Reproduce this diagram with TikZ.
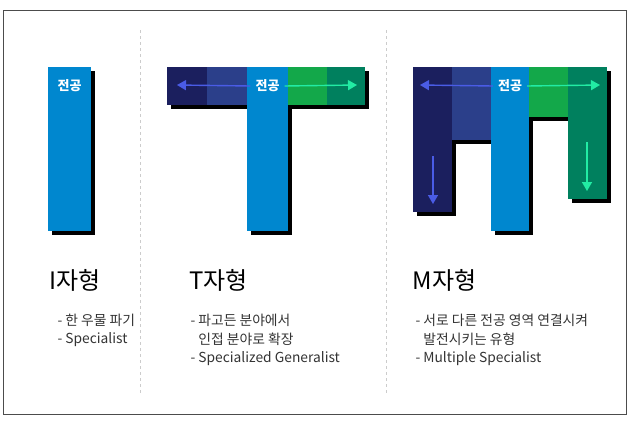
\documentclass[tikz,border=0pt]{standalone}
\usepackage{fontspec}
\setmainfont{Noto Sans CJK KR}
\usetikzlibrary{arrows.meta}
\definecolor{cnavy}{HTML}{1B1F5E}
\definecolor{cnavyb}{HTML}{2B3F8A}
\definecolor{cblue}{HTML}{0087CF}
\definecolor{cgreen}{HTML}{13A84A}
\definecolor{cteal}{HTML}{00805E}
\definecolor{carl}{HTML}{4A5CE6}
\definecolor{carr}{HTML}{22ECA4}
\begin{document}
\begin{tikzpicture}[x=1pt,y=-1pt,
  arl/.style={carl,line width=1.4pt,-{Triangle[length=9pt,width=10pt]}},
  arr/.style={carr,line width=1.4pt,-{Triangle[length=9pt,width=10pt]}},
  title/.style={anchor=west,font=\fontsize{24}{26}\selectfont},
  bul/.style={anchor=west,font=\fontsize{13.8}{15}\selectfont,text=black!80},
  lbl/.style={text=white,font=\bfseries\fontsize{13}{15}\selectfont,inner sep=2pt},
  div/.style={black!20,dashed,line width=0.8pt}]
\useasboundingbox (0,0) rectangle (630,426);
\draw[black!70,line width=0.6pt] (3,10) rectangle (626,414);
\draw[div] (140,30) -- (140,395);
\draw[div] (386,30) -- (386,395);
% I
\fill[black] (52,71) rectangle (95,235);
\fill[cblue] (48,67) rectangle (91,231);
\node[lbl] (il) at (69.5,86) {전공};
% T
\fill[black] (171,71) rectangle (369,109);
\fill[black] (251,71) rectangle (292,235);
\fill[cnavy] (167,67) rectangle (207,105);
\fill[cnavyb] (207,67) rectangle (247,105);
\fill[cgreen] (288,67) rectangle (327,105);
\fill[cteal] (327,67) rectangle (365,105);
\fill[cblue] (247,67) rectangle (288,231);
\node[lbl] (tl) at (267.5,86) {전공};
\coordinate (tla) at (177,85); \coordinate (tra) at (357,85);
\draw[arl] (tl.west) ++(-3,0) -- (tla);
\draw[arr] (tl.east) ++(3,0) -- (tra);
% M
\fill[black] (417,71) rectangle (456,216);
\fill[black] (456,71) rectangle (495,144);
\fill[black] (495,71) rectangle (533,235);
\fill[black] (533,71) rectangle (572,121);
\fill[black] (572,71) rectangle (611,203);
\fill[cnavy] (413,67) rectangle (452,212);
\fill[cnavyb] (452,67) rectangle (491,140);
\fill[cgreen] (529,67) rectangle (568,117);
\fill[cteal] (568,67) rectangle (607,199);
\fill[cblue] (491,67) rectangle (529,231);
\node[lbl] (ml) at (510,86) {전공};
\coordinate (mla) at (420,85); \coordinate (mra) at (600,85);
\draw[arl] (ml.west) ++(-3,0) -- (mla);
\draw[arr] (ml.east) ++(3,0) -- (mra);
\coordinate (md1s) at (433,156); \coordinate (md1e) at (433,204);
\coordinate (md2s) at (587,142); \coordinate (md2e) at (587,191);
\draw[arl] (md1s) -- (md1e);
\draw[arr] (md2s) -- (md2e);
% texts
\node[title] (it) at (46,280) {I자형};
\node[bul] (i1) at (54,320) {- 한 우물 파기};
\node[bul] (i2) at (54,340) {- Specialist};
\node[title] (tt) at (186,280) {T자형};
\node[bul] (t1) at (187,320) {- 파고든 분야에서};
\node[bul] (t2) at (187,339) {\phantom{-} 인접 분야로 확장};
\node[bul] (t3) at (187,359) {- Specialized Generalist};
\node[title] (mt) at (409,280) {M자형};
\node[bul] (m1) at (412,320) {- 서로 다른 전공 영역 연결시켜};
\node[bul] (m2) at (412,339) {\phantom{-} 발전시키는 유형};
\node[bul] (m3) at (412,359) {- Multiple Specialist};
\end{tikzpicture}
\end{document}
